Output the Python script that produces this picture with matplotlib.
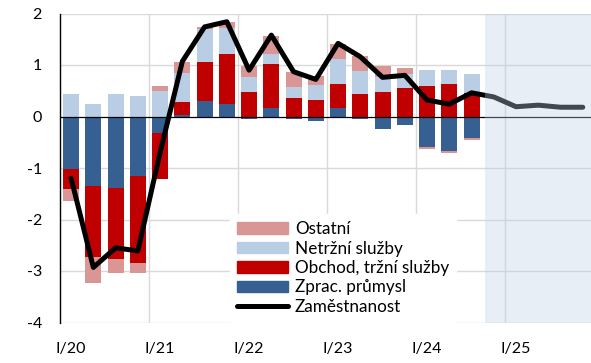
import numpy as np
import matplotlib.pyplot as plt
from matplotlib.patches import Patch
from matplotlib.lines import Line2D

plt.rcParams["font.family"] = ["Lato", "DejaVu Sans"]

# příspěvky odvětví ke změně zaměstnanosti (p.b.), I/20 - III/24
prumysl = [-1.02, -1.34, -1.38, -1.15, -0.33, 0.02, 0.30, 0.25, -0.05, 0.17,
           -0.05, -0.09, 0.17, -0.05, -0.25, -0.17, -0.60, -0.67, -0.41]
obchod = [-0.39, -1.39, -1.39, -1.69, -0.88, 0.27, 0.76, 0.97, 0.48, 0.85,
          0.36, 0.33, 0.46, 0.44, 0.48, 0.56, 0.59, 0.64, 0.45]
netrzni = [0.44, 0.25, 0.44, 0.40, 0.49, 0.56, 0.63, 0.50, 0.28, 0.20,
           0.21, 0.28, 0.48, 0.44, 0.29, 0.27, 0.32, 0.27, 0.38]
ostatni = [-0.23, -0.50, -0.27, -0.20, 0.11, 0.21, 0.04, 0.12, 0.22, 0.35,
           0.30, 0.18, 0.30, 0.30, 0.21, 0.12, -0.04, -0.04, -0.04]

# zaměstnanost celkem, I/20 - IV/25 (od IV/24 prognóza)
zamestnanost = [-1.20, -2.93, -2.55, -2.61, -0.70, 1.07, 1.74, 1.84, 0.90, 1.58,
                0.87, 0.72, 1.42, 1.16, 0.76, 0.80, 0.32, 0.24, 0.46, 0.38,
                0.19, 0.22, 0.18, 0.18]

roky = ["I/20", "I/21", "I/22", "I/23", "I/24", "I/25"]

slozky = [
    ("Zprac. průmysl", prumysl, "#366092"),
    ("Obchod, tržní služby", obchod, "#c00000"),
    ("Netržní služby", netrzni, "#b9cde5"),
    ("Ostatní", ostatni, "#da9694"),
]

fig = plt.figure(figsize=(5.91, 3.63), dpi=100)
ax = fig.add_axes([60 / 591, 1 - 322.5 / 363, 531 / 591, 309 / 363])

x = np.arange(len(prumysl))
kladne = np.zeros(len(x))
zaporne = np.zeros(len(x))
for nazev, hodnoty, barva in slozky:
    h = np.array(hodnoty)
    dno = np.where(h >= 0, kladne, zaporne)
    ax.bar(x, h, bottom=dno, width=0.72, color=barva, zorder=2)
    kladne += np.where(h >= 0, h, 0)
    zaporne += np.where(h < 0, h, 0)

xl = np.arange(len(zamestnanost))
ax.plot(xl, zamestnanost, color="black", lw=3.6, zorder=4,
        solid_joinstyle="round", solid_capstyle="round")

ax.axhline(0, color="black", lw=0.9, zorder=3)

# prognóza
ax.axvspan(18.6, 24, color=(0.74, 0.81, 0.90), alpha=0.35, lw=0, zorder=5)

ax.set_xlim(-0.5, 23.37)
ax.set_ylim(-4, 2)
ax.set_yticks(range(-4, 3))
ax.set_yticklabels([str(v) for v in range(-4, 3)])
ax.set_xticks(np.arange(0, 24, 4))
ax.set_xticklabels(roky)
for v in range(-4, 3):
    if v != 0:
        ax.axhline(v, color="#d9d9d9", lw=1, zorder=1)
for g in np.arange(3.5, 24, 4):
    ax.axvline(g, color="#d9d9d9", lw=1, zorder=1)

ax.tick_params(axis="both", length=0, labelsize=11.5)
ax.tick_params(axis="y", pad=13)
ax.tick_params(axis="x", pad=14)
for s in ["top", "right", "bottom"]:
    ax.spines[s].set_visible(False)
ax.spines["left"].set_linewidth(1)

handles = [
    Patch(color="#da9694", label="Ostatní"),
    Patch(color="#b9cde5", label="Netržní služby"),
    Patch(color="#c00000", label="Obchod, tržní služby"),
    Patch(color="#366092", label="Zprac. průmysl"),
    Line2D([], [], color="black", lw=3.6, solid_capstyle="round", label="Zaměstnanost"),
]
leg = ax.legend(handles=handles, loc="lower left", bbox_to_anchor=(169 / 531, 0.0),
                fontsize=12.3, frameon=True, fancybox=False, edgecolor="white",
                framealpha=1, handlelength=3.0, handleheight=0.65,
                handletextpad=0.4, labelspacing=0.2, borderpad=0.4,
                borderaxespad=0.05)
leg.set_zorder(6)

fig.savefig("out.png", dpi=100)
